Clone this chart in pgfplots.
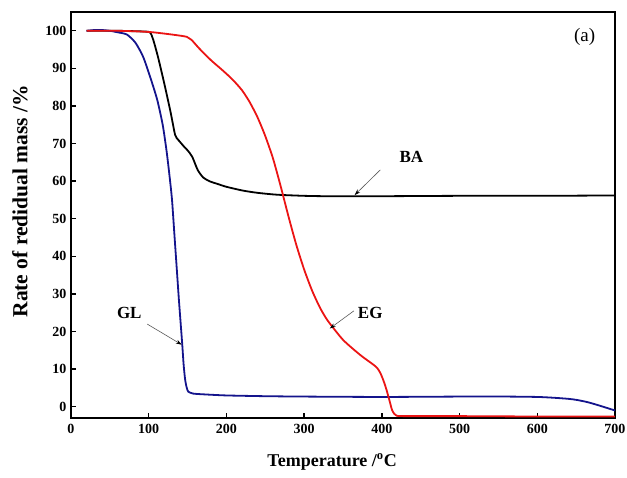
\documentclass[border=0pt]{standalone}
\usepackage{fontspec}
\setmainfont{Liberation Serif}
\usepackage{pgfplots}
\pgfplotsset{compat=1.18}
\usetikzlibrary{arrows.meta}

\definecolor{glblue}{RGB}{20,20,140}
\definecolor{egred}{RGB}{235,20,20}

\begin{document}
\begin{tikzpicture}
\begin{axis}[
  name=ax,
  scale only axis,
  width=544pt, height=406pt,
  xmin=0, xmax=700,
  ymin=-3, ymax=105,
  xtick={0,100,...,700},
  ytick={0,10,...,100},
  xtick pos=bottom, ytick pos=left,
  tick align=inside,
  major tick length=5pt,
  axis line style={line width=1.6pt},
  tick style={line width=1.4pt, black},
  /pgf/number format/assume math mode=true,
  ticklabel style={font=\bfseries\fontsize{14}{16}\selectfont},
  xticklabel style={yshift=-3pt},
  yticklabel style={xshift=-1pt},
  xlabel style={font=\bfseries\fontsize{18}{20}\selectfont},
  ylabel style={font=\bfseries\fontsize{21.5}{23}\selectfont},
  xlabel={Temperature /\textsuperscript{o}C},
  ylabel={Rate of redidual mass /\%},
  xlabel style={at={(axis description cs:0.48,-0.108)}, anchor=center},
  ylabel style={at={(axis description cs:-0.094,0.534)}, anchor=center},
  clip=false,
]
% BA
\addplot[black, line width=1.8pt, smooth, tension=0.4] coordinates {
(20,100)(60,100)(95,99.8)(102,99.5)(106,97.5)(112,93)(120,86)(128,78.5)
(134,72.3)(138,71)(145,69.3)(150,68.2)(156,66.5)(163,63)(170,61)(178,60)
(188,59.3)(200,58.5)(221,57.5)(240,56.9)(265,56.4)(300,56.1)(329,56)
(400,56)(500,56.1)(600,56.1)(700,56.2)};
% GL
\addplot[glblue, line width=1.8pt, smooth, tension=0.4] coordinates {
(20,100)(30,100.2)(40,100.2)(50,100)(60,99.6)(72,99)(83,96.8)(93,93)(103,87)
(111,81.6)(118,75)(123,68)(127,61)(130,55)(133,46)(136,37)(139,28)(143,17)
(145,11)(147,7)(149,5)(151,4)(157,3.5)(170,3.3)(200,3.0)(250,2.8)(300,2.7)
(400,2.6)(500,2.7)(560,2.7)(600,2.6)(620,2.4)(640,2.1)(651,1.8)(665,1.2)
(680,0.3)(700,-1.0)};
% EG
\addplot[egred, line width=1.8pt, smooth, tension=0.4] coordinates {
(20,100)(60,100)(100,99.7)(130,99)(149,98.4)(155,97.6)(165,95.3)(180,92.2)
(195,89.5)(208,87)(220,84.2)(230,81)(240,77)(250,72)(260,66)(270,58.5)
(280,50.5)(290,43)(300,36.5)(310,31)(320,26.5)(330,23)(350,17.8)(372,13.8)
(389,11.2)(394,10.3)(398,9)(402,7)(406,4.5)(410,1.5)(413,-0.8)(416,-1.9)
(419,-2.4)(430,-2.5)(500,-2.5)(600,-2.6)(700,-2.6)};

\node[font=\fontsize{19}{21}\selectfont] at (axis cs:661,98.4) {(a)};
\node[font=\bfseries\fontsize{17}{19}\selectfont] at (axis cs:438,66.5) {BA};
\node[font=\bfseries\fontsize{17}{19}\selectfont] at (axis cs:385,25) {EG};
\node[font=\bfseries\fontsize{17}{19}\selectfont] at (axis cs:75,25) {GL};
\draw[gray!70!black, line width=0.6pt, -{Stealth[black,length=6pt,width=4pt]}]
  (axis cs:398,63) -- (axis cs:365,56.3);
\draw[gray!70!black, line width=0.6pt, -{Stealth[black,length=6pt,width=4pt]}]
  (axis cs:364,25.5) -- (axis cs:333,20.8);
\draw[gray!70!black, line width=0.6pt, -{Stealth[black,length=6pt,width=4pt]}]
  (axis cs:98,22) -- (axis cs:142.5,16.5);
\end{axis}
\pgfresetboundingbox
\path[use as bounding box] (ax.south west) ++(-71pt,-59pt) rectangle ++(627pt,477pt);
\end{tikzpicture}
\end{document}
